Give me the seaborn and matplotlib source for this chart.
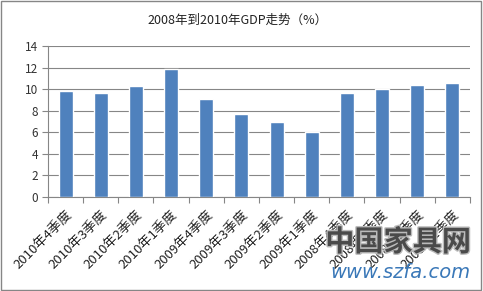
import matplotlib
matplotlib.use("Agg")
import matplotlib.pyplot as plt
import seaborn as sns
import pandas as pd
import numpy as np
from matplotlib.patches import Rectangle
import matplotlib.patheffects as pe

categories = ["2010年4季度", "2010年3季度", "2010年2季度", "2010年1季度",
              "2009年4季度", "2009年3季度", "2009年2季度", "2009年1季度",
              "2008年4季度", "2008年3季度", "2008年2季度", "2008年1季度"]
values = [9.8, 9.6, 10.3, 11.9, 9.1, 7.7, 7.0, 6.0, 9.6, 10.0, 10.4, 10.6]
yticks = [0, 2, 4, 6, 8, 10, 12, 14]
title = "2008年到2010年GDP走势（%）"

sns.set_theme(style="white")
plt.rcParams['font.family'] = ['Noto Sans CJK SC', 'DejaVu Sans']

df = pd.DataFrame({"cat": categories, "val": values})

fig = plt.figure(figsize=(4.83, 2.91), dpi=100)
ax = fig.add_axes([48/483, 1-197/291, (470-48)/483, (197-46)/291])

sns.barplot(data=df, x="cat", y="val", color="#4F81BD", width=0.4,
            saturation=1, ax=ax, zorder=3)

ax.set_ylim(0, 14)
ax.set_xlim(-0.5, len(categories)-0.5)
ax.set_yticks(yticks)
ax.set_yticklabels([str(t) for t in yticks], fontsize=8.5, color="#333333")
ax.yaxis.grid(True, color="#868686", linewidth=0.8, zorder=0)
ax.set_xlabel("")
ax.set_ylabel("")

ax.set_xticks(range(len(categories)))
ax.set_xticklabels(categories, rotation=45, ha="right", rotation_mode="anchor",
                   fontsize=9.5, color="#222222")
ax.tick_params(axis="x", which="major", length=0, pad=8)
ax.set_xticks(np.arange(-0.5, len(categories)), minor=True)
ax.tick_params(axis="x", which="minor", length=4, color="#868686", width=0.8, direction="out", bottom=True)
ax.tick_params(axis="y", which="major", length=4, color="#868686", width=0.8, direction="out", left=True, pad=3)

for s in ["top", "right"]:
    ax.spines[s].set_visible(False)
for s in ["left", "bottom"]:
    ax.spines[s].set_color("#868686")
    ax.spines[s].set_linewidth(0.8)

fig.text(238/483, 1-20/291, title, ha="center", va="center", fontsize=9, color="#222222")

# watermark
fig.text(398/483, 1-242/291, "中国家具网", ha="center", va="center", fontsize=21,
         fontweight="heavy", color="#4a4a4a",
         path_effects=[pe.withStroke(linewidth=2, foreground="#bbbbbb")])
fig.text(400/483, 1-272/291, "www.szfa.com", ha="center", va="center", fontsize=14,
         color="#3A78B8", family=["DejaVu Sans"], style="italic")

fig.patches.append(Rectangle((0.002, 0.003), 0.994, 0.992, transform=fig.transFigure,
                             fill=False, edgecolor="#868686", linewidth=1))

fig.savefig("out.png", dpi=100)
